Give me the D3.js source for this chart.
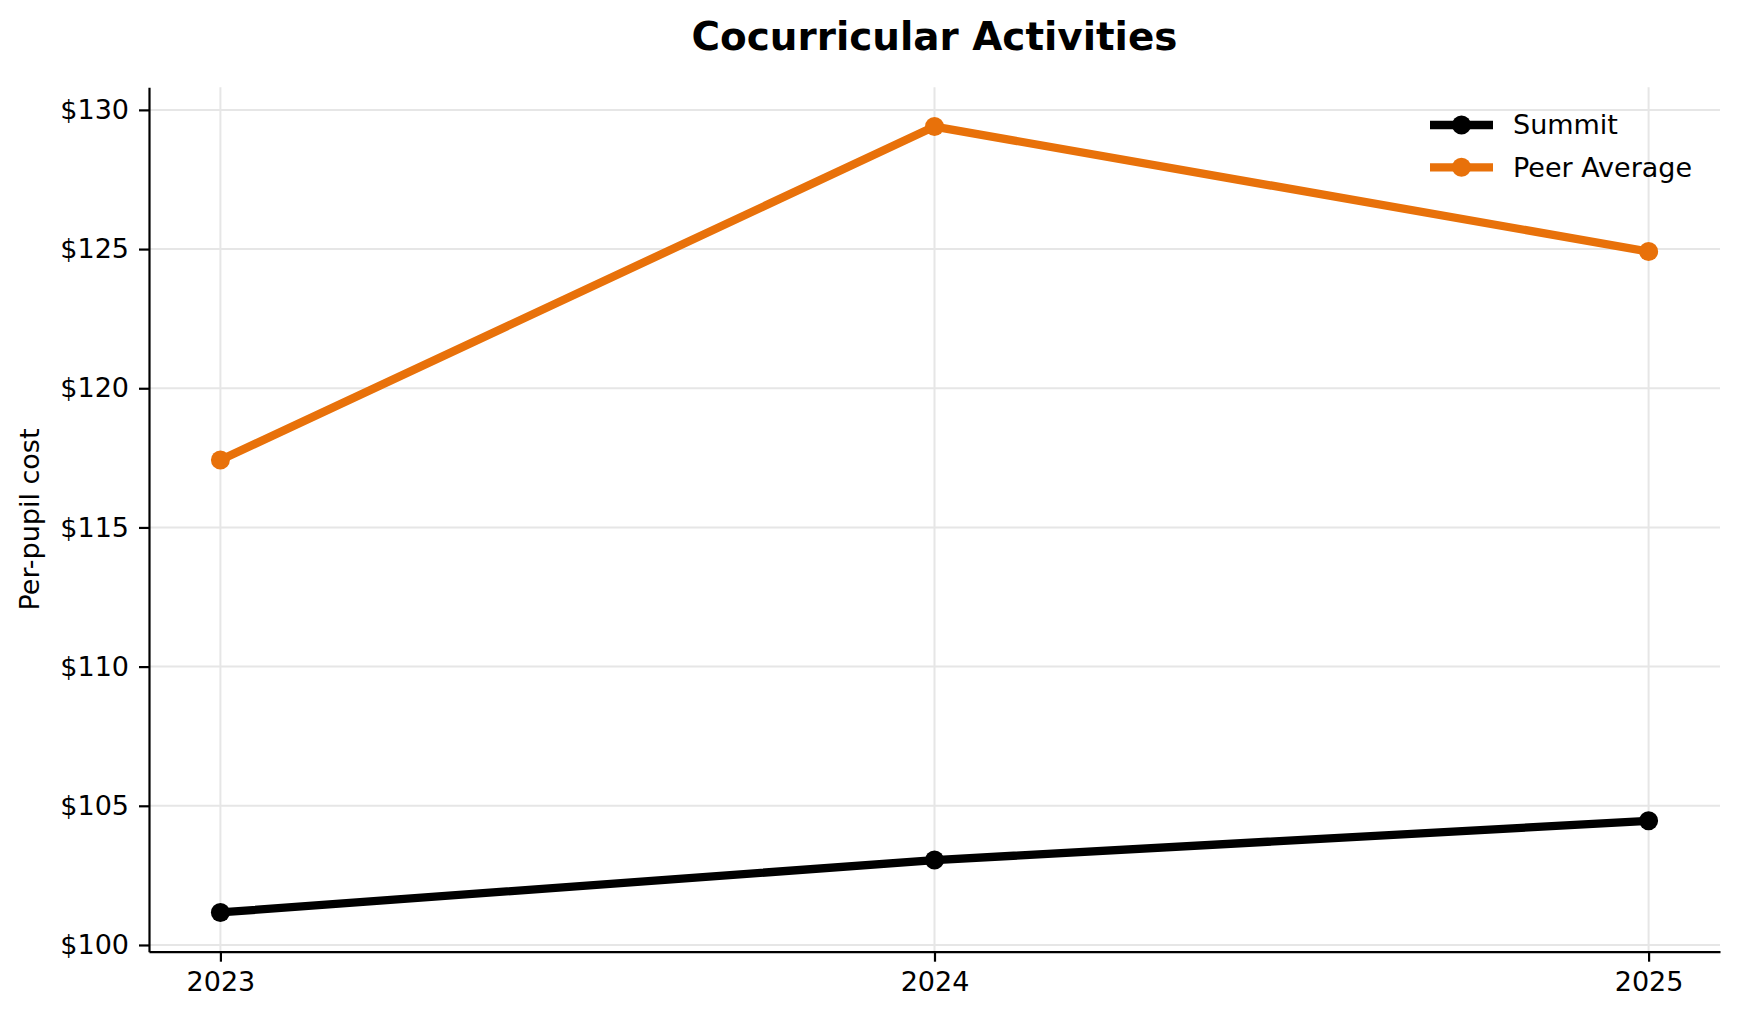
<!DOCTYPE html>
<html>
<head>
<meta charset="utf-8">
<script src="https://cdn.jsdelivr.net/npm/d3@7"></script>
<style>
  body { margin: 0; background: #fff; }
  text { font-family: "DejaVu Sans", sans-serif; fill: #000; }
</style>
</head>
<body>
<div id="chart"></div>
<script>
// data
var years = [2023, 2024, 2025];
var summit = [101.17, 103.05, 104.46];
var peerAverage = [117.42, 129.40, 124.91];
var yTicks = [100, 105, 110, 115, 120, 125, 130];
var seriesNames = ["Summit", "Peer Average"];
var seriesColors = ["#000000", "#e8710a"];

var width = 1739, height = 1019;
// plot box (don't call these top/left - window.top is read-only)
var plotLeft = 149, plotRight = 1720, plotTop = 87.3, plotBottom = 951.7;

var svg = d3.select("#chart").append("svg")
    .attr("width", width)
    .attr("height", height);

// Scales (matplotlib style 5% margins)
var xPad = (d3.max(years) - d3.min(years)) * 0.05;
var xScale = d3.scaleLinear()
    .domain([d3.min(years) - xPad, d3.max(years) + xPad])
    .range([plotLeft, plotRight]);

var allVals = summit.concat(peerAverage);
var yPad = (d3.max(allVals) - d3.min(allVals)) * 0.05;
var yScale = d3.scaleLinear()
    .domain([d3.min(allVals) - yPad, d3.max(allVals) + yPad])
    .range([plotBottom, plotTop]);

// Grid
var grid = svg.append("g").attr("class", "grid");
grid.selectAll("line.gy")
    .data(yTicks)
    .enter()
    .append("line")
    .attr("x1", plotLeft).attr("x2", plotRight)
    .attr("y1", function (d) { return yScale(d); })
    .attr("y2", function (d) { return yScale(d); })
    .attr("stroke", "#e6e6e6")
    .attr("stroke-width", 2);
grid.selectAll("line.gx")
    .data(years)
    .enter()
    .append("line")
    .attr("y1", plotTop).attr("y2", plotBottom)
    .attr("x1", function (d) { return xScale(d); })
    .attr("x2", function (d) { return xScale(d); })
    .attr("stroke", "#e6e6e6")
    .attr("stroke-width", 2);

// Axes
var xAxis = svg.append("g")
    .attr("transform", "translate(0," + plotBottom + ")")
    .call(d3.axisBottom(xScale)
        .tickValues(years)
        .tickFormat(d3.format("d"))
        .tickSize(10)
        .tickPadding(10)
        .tickSizeOuter(0));
var yAxis = svg.append("g")
    .attr("transform", "translate(" + plotLeft + ",0)")
    .call(d3.axisLeft(yScale)
        .tickValues(yTicks)
        .tickFormat(function (d) { return "$" + d; })
        .tickSize(10)
        .tickPadding(10)
        .tickSizeOuter(0));

[xAxis, yAxis].forEach(function (ax) {
    ax.select(".domain").attr("stroke", "#000").attr("stroke-width", 2.2);
    ax.selectAll(".tick line").attr("stroke", "#000").attr("stroke-width", 2.2);
    ax.selectAll(".tick text")
        .style("font-family", "DejaVu Sans")
        .style("font-size", "27px")
        .attr("fill", "#000");
});

// Lines
var line = d3.line()
    .x(function (d, i) { return xScale(years[i]); })
    .y(function (d) { return yScale(d); });

var seriesData = [summit, peerAverage];
seriesData.forEach(function (vals, s) {
    svg.append("path")
        .datum(vals)
        .attr("d", line)
        .attr("fill", "none")
        .attr("stroke", seriesColors[s])
        .attr("stroke-width", 8.3)
        .attr("stroke-linejoin", "round")
        .attr("stroke-linecap", "square");
    svg.selectAll("circle.s" + s)
        .data(vals)
        .enter()
        .append("circle")
        .attr("class", "s" + s)
        .attr("cx", function (d, i) { return xScale(years[i]); })
        .attr("cy", function (d) { return yScale(d); })
        .attr("r", 9.5)
        .attr("fill", seriesColors[s]);
});

// Title
svg.append("text")
    .attr("x", (plotLeft + plotRight) / 2)
    .attr("y", 50)
    .attr("text-anchor", "middle")
    .style("font-size", "38.9px")
    .style("font-weight", "bold")
    .text("Cocurricular Activities");

// Y label
svg.append("text")
    .attr("transform", "translate(39," + (plotTop + plotBottom) / 2 + ") rotate(-90)")
    .attr("text-anchor", "middle")
    .style("font-size", "27px")
    .text("Per-pupil cost");

// Legend
var legend = svg.append("g").attr("transform", "translate(1430,125)");
seriesNames.forEach(function (name, i) {
    var g = legend.append("g").attr("transform", "translate(0," + i * 42.3 + ")");
    g.append("line")
        .attr("x1", 0).attr("x2", 63)
        .attr("stroke", seriesColors[i])
        .attr("stroke-width", 8.3);
    g.append("circle")
        .attr("cx", 31.5)
        .attr("r", 9.5)
        .attr("fill", seriesColors[i]);
    g.append("text")
        .attr("x", 83)
        .attr("dy", "0.35em")
        .style("font-size", "27px")
        .text(name);
});
</script>
</body>
</html>
